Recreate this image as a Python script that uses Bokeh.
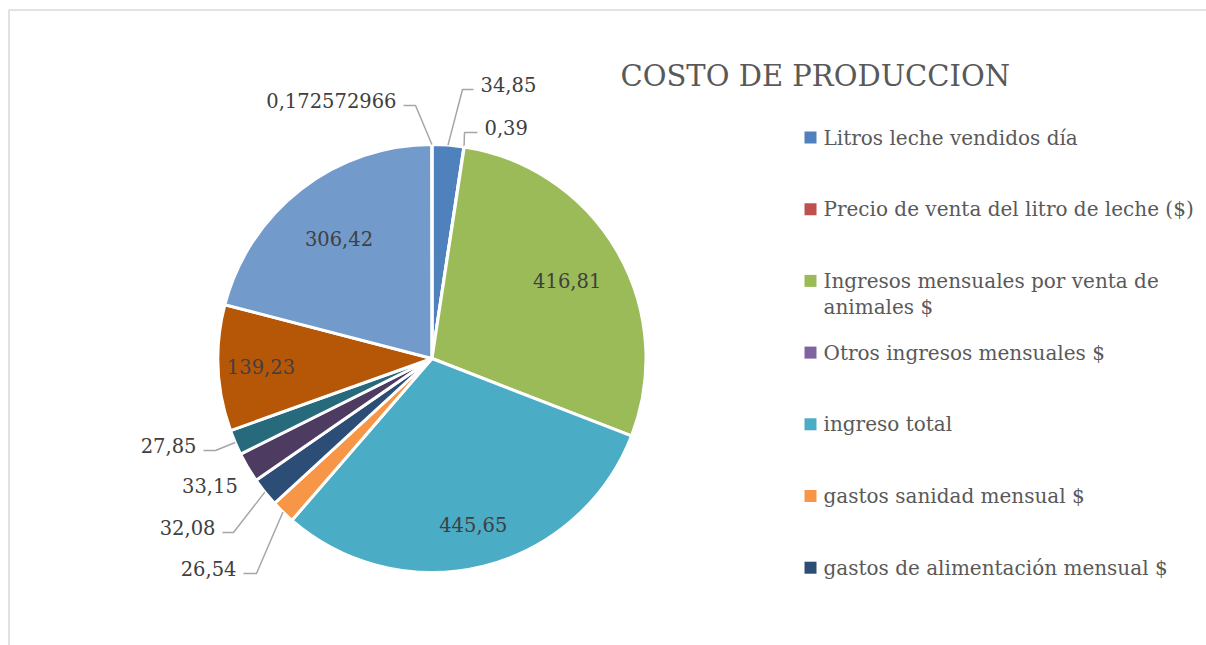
import math
import textwrap
from bokeh.plotting import figure
from bokeh.models import Range1d
from bokeh.embed import file_html
from bokeh.resources import INLINE
from bokeh.core.properties import value

# ---------------- data ----------------
title_text = "COSTO DE PRODUCCION"
categories = [
    "Litros leche vendidos día",
    "Precio de venta del litro de leche ($)",
    "Ingresos mensuales por venta de animales $",
    "Otros ingresos mensuales $",
    "ingreso total",
    "gastos sanidad mensual $",
    "gastos de alimentación mensual $",
    None, None, None, None, None, None, None,   # series not shown in the (cut) legend
]
values = [34.85, 0.39, 416.81, 0.0, 445.65, 26.54, 32.08, 0.0, 0.0,
          33.15, 27.85, 139.23, 306.42, 0.172572966]
legend_rows = 7

# ---------------- style ----------------
palette = ["#4F81BD", "#C0504D", "#9BBB59", "#8064A2", "#4BACC6", "#F79646",
           "#2C4D75", "#772C2A", "#5F7530", "#4D3B62", "#276A7C", "#B65708",
           "#729ACA", "#CD7371"]
FONT = "DejaVu Serif"
W, H = 1206, 645
CX, CY, R = 431.5, 358.0, 214.0          # page pixel geometry of the pie
inside_r = {2: 0.73, 4: 0.80, 11: 0.80, 12: 0.71}
# outside labels: (elbow dx, elbow dy, horizontal length) relative to the slice edge
outside = {0: (14.5, -55.6, 11), 1: (0.4, -14.4, 13), 13: (-16.4, -39.0, -12),
           10: (-19.7, 8.0, -12), 6: (-31.4, 40.3, -11), 5: (-26.5, 61.4, -13)}
no_leader = {9: (-10, 18)}


def X(x):   # page x -> data x
    return x


def Y(y):   # page y -> data y
    return H - y


def fmt(v):
    return ("%.10g" % v).replace(".", ",")


p = figure(width=W, height=H, x_range=Range1d(0, W), y_range=Range1d(0, H),
           output_backend="svg", toolbar_location=None, min_border=0,
           x_axis_type=None, y_axis_type=None)
p.grid.visible = False
p.outline_line_color = None
p.background_fill_color = "white"
p.border_fill_color = "white"

# chart frame (only left/top edge visible in the window)
p.quad(left=[X(8.5)], right=[X(1400)], bottom=[Y(900)], top=[Y(9.5)],
       fill_color=None, line_color="#D9D9D9", line_width=1.5)

total = sum(values)
cum = 0.0
label_in = dict(x=[], y=[], t=[])
label_out_l = dict(x=[], y=[], t=[])
label_out_r = dict(x=[], y=[], t=[])
for i, v in enumerate(values):
    a0 = cum / total * 2 * math.pi
    cum += v
    a1 = cum / total * 2 * math.pi
    if v <= 0:
        continue
    p.wedge(x=[X(CX)], y=[Y(CY)], radius=R,
            start_angle=math.pi / 2 - a0, end_angle=math.pi / 2 - a1,
            direction="clock", fill_color=palette[i], line_color="white",
            line_width=3)
    am = (a0 + a1) / 2
    ex, ey = CX + R * math.sin(am), CY - R * math.cos(am)
    if i in inside_r:
        rr = R * inside_r[i]
        label_in["x"].append(X(CX + rr * math.sin(am)))
        label_in["y"].append(Y(CY - rr * math.cos(am)))
        label_in["t"].append(fmt(v))
    elif i in outside:
        dx, dy, hl = outside[i]
        bx, by = ex + dx, ey + dy
        hx = bx + hl
        p.line(x=[X(ex), X(bx), X(hx)], y=[Y(ey), Y(by), Y(by)],
               line_color="#A6A6A6", line_width=1.5)
        tx = hx + (7 if hl > 0 else -7)
        d = label_out_r if hl > 0 else label_out_l
        d["x"].append(X(tx))
        d["y"].append(Y(by - 5))
        d["t"].append(fmt(v))
    elif i in no_leader:
        dx, dy = no_leader[i]
        label_out_l["x"].append(X(ex + dx))
        label_out_l["y"].append(Y(ey + dy))
        label_out_l["t"].append(fmt(v))

common = dict(text_font=value(FONT), text_font_size="19.5px",
              text_color="#404040", text_baseline="middle")
p.text(x=label_in["x"], y=label_in["y"], text=label_in["t"], text_align="center", **common)
p.text(x=label_out_l["x"], y=label_out_l["y"], text=label_out_l["t"], text_align="right", **common)
p.text(x=label_out_r["x"], y=label_out_r["y"], text=label_out_r["t"], text_align="left", **common)

# title
p.text(x=[X(620)], y=[Y(75)], text=[title_text], text_font=value(FONT),
       text_font_size="29px", text_color="#595959", text_align="left",
       text_baseline="alphabetic")

# legend (drawn manually)
LX, LY0, LSTEP, LLINE = 804, 137.0, 71.7, 26
for k in range(legend_rows):
    yc = LY0 + k * LSTEP
    p.rect(x=[X(LX + 6)], y=[Y(yc)], width=12, height=12,
           fill_color=palette[k], line_color=None)
    lines = textwrap.wrap(categories[k], width=38)
    p.text(x=[X(823)] * len(lines), y=[Y(yc + j * LLINE) for j in range(len(lines))],
           text=lines, text_font=value(FONT), text_font_size="20px",
           text_color="#595959", text_align="left", text_baseline="middle")

open("out.html", "w").write(file_html(p, INLINE))
